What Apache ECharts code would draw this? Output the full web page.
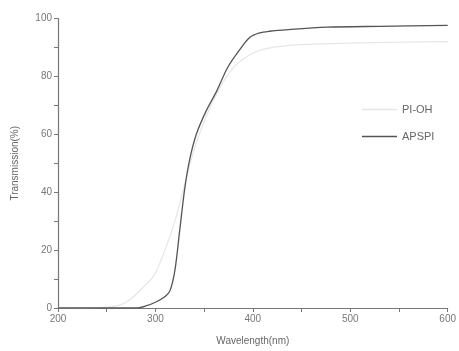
<!DOCTYPE html>
<html><head><meta charset="utf-8">
<script src="https://cdn.jsdelivr.net/npm/echarts@6/dist/echarts.min.js"></script>
<style>html,body{margin:0;padding:0;background:#fff}#c{width:459px;height:351px}</style>
</head><body><div id="c"></div>
<script>
var wavelengthAPSPI = [200,250,280,290,300,310,315,320,325,330,335,342,352,363,374,386,397,407,417,430,476,530,600];
var transAPSPI      = [0,0,0,0.7,2,4,6,13,27,41,51,60,68,75,83,89,93.5,95,95.6,96,97,97.3,97.6];
var wavelengthPIOH  = [200,250,270,290,300,320,340,360,380,400,420,450,500,550,600];
var transPIOH       = [0,0.3,2,8,12,30,55,72,83,88,90,91,91.5,91.8,92];
var xTicks = [200,300,400,500,600];
var yTicks = [0,20,40,60,80,100];

function pairs(x,y){return x.map(function(v,i){return [v,y[i]];});}
var chart = echarts.init(document.getElementById('c'));
var axisColor = '#777';
chart.setOption({
  backgroundColor:'#fff',
  animation:false,
  grid:{left:58,right:11,top:18.5,bottom:43},
  legend:{
    orient:'vertical', left:362, top:104, padding:0, itemWidth:35, itemHeight:1.5, itemGap:16, icon:'rect',
    textStyle:{color:'#666',fontSize:11,fontFamily:'Liberation Sans'},
    data:[{name:'PI-OH'},{name:'APSPI'}]
  },
  xAxis:{
    type:'value', min:xTicks[0], max:xTicks[xTicks.length-1], interval:100,
    name:'Wavelength(nm)', nameLocation:'middle', nameGap:28,
    nameTextStyle:{color:'#666',fontSize:10,fontFamily:'Liberation Sans'},
    axisLine:{lineStyle:{color:axisColor,width:1.2}},
    axisTick:{show:true,length:4,lineStyle:{color:axisColor}},
    minorTick:{show:true,splitNumber:2,length:4,lineStyle:{color:axisColor}},
    axisLabel:{color:'#777',fontSize:10,margin:6,fontFamily:'Liberation Sans'},
    splitLine:{show:false}
  },
  yAxis:{
    type:'value', min:yTicks[0], max:yTicks[yTicks.length-1], interval:20,
    name:'Transmission(%)', nameLocation:'middle', nameGap:38,
    nameTextStyle:{color:'#666',fontSize:10,fontFamily:'Liberation Sans'},
    axisLine:{show:true,lineStyle:{color:axisColor,width:1.2}},
    axisTick:{show:true,length:4,lineStyle:{color:axisColor}},
    minorTick:{show:true,splitNumber:2,length:4,lineStyle:{color:axisColor}},
    axisLabel:{color:'#777',fontSize:10,margin:6,fontFamily:'Liberation Sans'},
    splitLine:{show:false}
  },
  series:[
    {name:'PI-OH',type:'line',smooth:0.3,symbol:'none',data:pairs(wavelengthPIOH,transPIOH),
     lineStyle:{color:'#e6e6e6',width:1.2},itemStyle:{color:'#e6e6e6'}},
    {name:'APSPI',type:'line',smooth:0.3,symbol:'none',data:pairs(wavelengthAPSPI,transAPSPI),
     lineStyle:{color:'#555',width:1.3},itemStyle:{color:'#555'}}
  ]
});
</script></body></html>
